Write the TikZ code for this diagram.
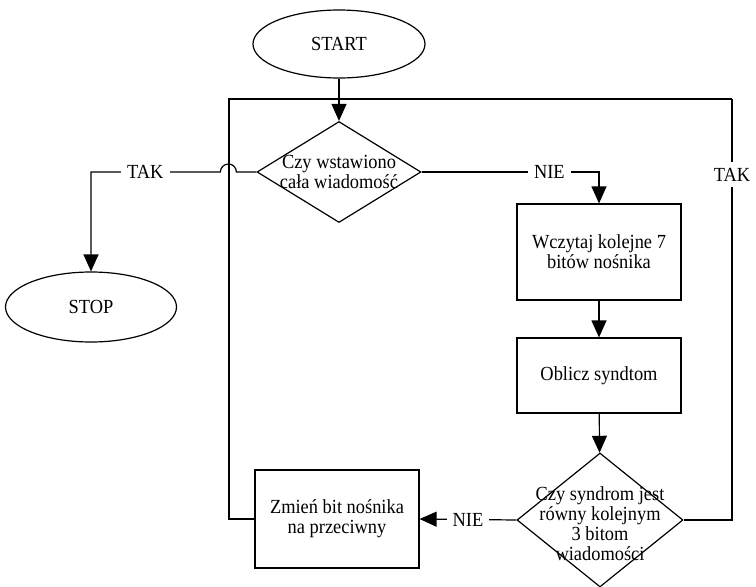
\documentclass[tikz,border=0pt]{standalone}
\usepackage{fontspec}
\setmainfont[FakeStretch=0.92]{Liberation Serif}
\usetikzlibrary{shapes.geometric,arrows.meta}

\begin{document}
\begin{tikzpicture}[x=0.5pt,y=0.5pt,line width=0.6pt,
    every node/.style={font=\fontsize{10}{10}\selectfont},
    terminal/.style={draw, ellipse, minimum width=86pt, minimum height=34pt},
    process/.style={draw, rectangle, minimum width=82pt, align=center},
    decision/.style={draw, diamond, inner sep=0pt},
    lbl/.style={fill=white, inner sep=3pt},
    flow/.style={-{Triangle[length=8.5pt,width=7.5pt]}}]
    \useasboundingbox (0,0) rectangle (756,586);
    \node[terminal] (start) at (339,542) {START};
    \node[decision, minimum width=82pt, minimum height=50.5pt, label={[align=center]center:Czy wstawiono\\cała wiadomość}] (warunek) at (339,414) {};
    \node[process, minimum height=48pt] (wczytaj) at (599,334) {Wczytaj kolejne 7\\bitów nośnika};
    \node[process, minimum height=37.5pt] (oblicz) at (599,210.5) {Oblicz syndtom};
    \node[decision, minimum width=83pt, minimum height=67pt, label={[align=center,yshift=-2pt]center:Czy syndrom jest\\równy kolejnym\\3 bitom\\wiadomości}] (syndrom) at (600,66) {};
    \node[process, minimum height=49pt] (zmien) at (337,67) {Zmień bit nośnika\\na przeciwny};
    \node[terminal, minimum width=85.5pt, minimum height=35pt] (stop) at (91,279) {STOP};
    \coordinate (petlaL) at (229,487);
    \coordinate (petlaP) at (732,487);
    % przebieg glowny
    \draw[flow] (start) -- (warunek);
    \draw[flow] (warunek.east) -| node[lbl, pos=0.36] {NIE} (wczytaj.north);
    \draw[flow] (wczytaj) -- (oblicz);
    \draw[flow] (oblicz) -- (syndrom);
    \draw[flow] (syndrom.west) -- node[lbl] {NIE} (zmien.east);
    % petla
    \draw (zmien.west) -| (petlaL) -- (petlaP);
    \draw (syndrom.east) -| node[lbl, pos=0.91] {TAK} (petlaP);
    \draw[flow] (warunek.west) -- ++(-20,0) arc[start angle=0, end angle=180, radius=4pt] -- node[lbl, pos=0.58] {TAK} (stop.north |- warunek.west) -- (stop.north);
\end{tikzpicture}
\end{document}
